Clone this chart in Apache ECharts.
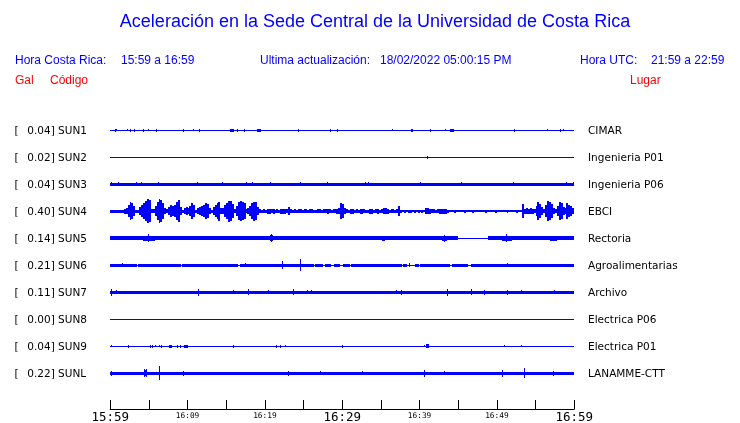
<!DOCTYPE html>
<html><head><meta charset="utf-8">
<script src="https://cdn.jsdelivr.net/npm/echarts/dist/echarts.min.js"></script>
<style>html,body{margin:0;padding:0;background:#fff}#c{width:740px;height:423px}</style>
</head><body><div id="c"></div><script>
// ---- data ----
const stations = ['SUN1','SUN2','SUN3','SUN4','SUN5','SUN6','SUN7','SUN8','SUN9','SUNL'];
const scaleLabels = ['0.04','0.02','0.04','0.40','0.14','0.21','0.11','0.00','0.04','0.22'];
const places = ['CIMAR','Ingenieria P01','Ingenieria P06','EBCI','Rectoria','Agroalimentarias','Archivo','Electrica P06','Electrica P01','LANAMME-CTT'];
const timeLabels = ['15:59','16:09','16:19','16:29','16:39','16:49','16:59'];

// bands: [startMin, endMin, halfAmplitude gal]; spikes: [min, halfAmplitude gal]
const bandsSUN1 = [[0,60,0.017],[15.5,16.0,0.057],[19.0,19.5,0.057],[38.9,39.2,0.05],[43.9,44.4,0.057]];
const spikesSUN1 = [[0.58,0.05],[0.75,0.04],[2.2,0.04],[2.56,0.05],[3.08,0.05],[4.25,0.05],[4.94,0.04],[5.97,0.05],[9.42,0.05],[10.7,0.04],[11.5,0.05],[16.4,0.05],[17.3,0.05],[24.3,0.05],[28.4,0.05],[29.3,0.05],[36.5,0.04],[41.4,0.05],[43.3,0.04],[52.2,0.05],[56.5,0.04],[58.2,0.05],[58.6,0.04]];
const bandsSUN2 = [[0,60,0.017]];
const spikesSUN2 = [[41.0,0.05]];
const bandsSUN3 = [[0,60,0.05]];
const spikesSUN3 = [[0.15,0.067],[1.0,0.067],[3.4,0.067],[4.0,0.067],[6.2,0.067],[11.2,0.067],[14.4,0.067],[17.6,0.067],[18.3,0.067],[20.6,0.067],[24.5,0.067],[28.0,0.067],[32.9,0.067],[33.4,0.067],[40.0,0.067],[45.4,0.067],[52.1,0.067],[59.0,0.067],[59.9,0.067]];
// SUN4 envelope, quarter-minute bins
const envSUN4 = [
0.05,0.05,0.05,0.05,0.05,0.05,0.05,0.08,0.10,0.20,0.30,0.27,0.17,0.05,0.05,
0.13,0.20,0.27,0.33,0.40,0.37,0.07,0.07,0.17,0.30,0.40,0.37,0.27,0.10,0.07,
0.13,0.20,0.17,0.20,0.30,0.37,0.13,0.05,0.10,0.13,0.10,0.17,0.27,0.20,0.05,
0.10,0.13,0.17,0.20,0.27,0.23,0.10,0.05,0.13,0.20,0.27,0.32,0.10,
0.10,0.20,0.27,0.35,0.33,0.23,0.07,0.17,0.30,0.33,0.30,0.27,0.07,
0.10,0.17,0.27,0.32,0.30,0.13,
0.07,0.05,0.07,0.05,0.08,0.08,0.07,0.08,0.05,0.07,0.05,0.08,0.09,0.08,0.07,0.13,0.07,0.05,0.07,0.05,
0.07,0.07,0.05,0.07,0.07,0.05,0.07,0.07,0.05,0.05,0.07,0.07,0.05,0.07,0.07,0.09,0.07,0.05,0.07,0.07,0.08,
0.10,0.27,0.23,0.10,
0.07,0.05,0.08,0.08,0.05,0.07,0.05,0.08,0.08,0.07,0.05,0.05,0.08,0.08,0.05,0.07,0.09,0.05,0.07,0.10,
0.10,0.08,0.05,0.07,0.07,0.05,0.07,0.17,
0.05,0.04,0.05,0.04,0.05,0.05,0.04,0.05,0.04,0.05,0.04,0.05,0.04,
0.10,0.10,0.08,0.07,0.07,0.05,0.07,0.08,0.08,0.08,0.08,0.05,
0.04,0.035,0.035,0.05,0.035,0.035,0.04,0.035,0.05,0.035,0.035,0.035,0.05,0.035,0.035,0.035,0.04,0.035,0.035,0.05,
0.035,0.035,0.035,0.035,0.05,0.035,0.035,0.04,0.035,0.035,0.05,0.035,0.035,0.035,0.035,0.05,0.035,0.04,
0.23,0.08,0.10,0.08,0.10,0.08,0.07,
0.17,0.30,0.23,0.13,
0.07,0.20,0.33,0.30,0.23,0.10,
0.07,0.17,0.30,0.27,0.13,
0.10,0.27,0.20,0.17,0.10];
const bandsSUN5 = [[0,44.95,0.067],[44.95,48.84,0.017],[48.84,60,0.067],[4.2,5.75,0.09],[20.6,21.0,0.1],[35.1,35.5,0.09],[42.9,43.5,0.09],[50.6,52.0,0.09],[56.9,57.8,0.09]];
const spikesSUN5 = [[4.9,0.133],[20.8,0.14],[43.2,0.12],[51.2,0.133]];
const bandsSUN6 = [[0,60,0.017],[0,3.45,0.05],[3.65,9.1,0.05],[9.3,16.55,0.05],[16.75,26.3,0.05],[26.5,27.5,0.05],[27.8,28.6,0.05],[28.9,29.7,0.05],[30.1,31.0,0.05],[31.2,37.7,0.05],[37.9,38.4,0.05],[39.4,39.9,0.05],[40.0,44.0,0.05],[44.2,46.3,0.05],[46.6,60,0.05]];
const spikesSUN6 = [[1.58,0.067],[17.4,0.067],[22.2,0.133],[24.5,0.2],[38.7,0.067],[51.3,0.067]];
const bandsSUN7 = [[0,60,0.057]];
const spikesSUN7 = [[0.06,0.11],[0.8,0.07],[11.3,0.11],[15.9,0.067],[17.8,0.10],[20.4,0.067],[23.6,0.10],[25.4,0.067],[26.0,0.067],[36.9,0.067],[37.6,0.083],[43.6,0.11],[46.7,0.10],[48.4,0.083],[51.3,0.083],[53.1,0.067],[57.4,0.067]];
const bandsSUN8 = [[0,60,0.017]];
const spikesSUN8 = [];
const bandsSUN9 = [[0,60,0.017],[7.6,8.0,0.05],[9.55,10.1,0.05],[40.9,41.2,0.067]];
const spikesSUN9 = [[0.15,0.04],[2.3,0.05],[5.1,0.05],[5.45,0.05],[5.75,0.04],[6.3,0.04],[6.6,0.05],[8.6,0.05],[9.0,0.05],[15.9,0.05],[21.4,0.05],[21.9,0.05],[22.6,0.04],[29.99,0.05],[40.6,0.04],[50.9,0.04],[53.1,0.04]];
const bandsSUNL = [[0,60,0.057],[4.35,4.65,0.1]];
const spikesSUNL = [[0.15,0.077],[4.38,0.133],[4.6,0.133],[6.32,0.233],[9.42,0.077],[23.0,0.083],[27.1,0.067],[32.5,0.067],[40.6,0.12],[43.2,0.067],[50.6,0.11],[53.5,0.167],[57.2,0.083]];

// ---- build ----
const TRACE_STEP = 0.9, TOP_CENTER = 9.3;
const centers = stations.map((_, i) => TOP_CENTER - TRACE_STEP * i);
const allBands = [bandsSUN1,bandsSUN2,bandsSUN3,[],bandsSUN5,bandsSUN6,bandsSUN7,bandsSUN8,bandsSUN9,bandsSUNL];
const allSpikes = [spikesSUN1,spikesSUN2,spikesSUN3,[],spikesSUN5,spikesSUN6,spikesSUN7,spikesSUN8,spikesSUN9,spikesSUNL];
const items = [];
allBands.forEach((b, i) => b.forEach(s => items.push([i, s[0], s[1], s[2]])));
const dt = 60 / envSUN4.length;
envSUN4.forEach((a, j) => items.push([3, j * dt, (j + 1) * dt, a]));
allSpikes.forEach((b, i) => b.forEach(s => items.push([i, s[0], s[0], s[1]])));

const BLUE = '#0000ff';
function renderItem(params, api) {
  const i = api.value(0), t0 = api.value(1), t1 = api.value(2), a = api.value(3);
  const c = centers[i];
  const pc = api.coord([t0, c]);
  const pa = api.coord([t0, c + a]);
  const p1 = api.coord([t1, c]);
  const hpx = pc[1] - pa[1];
  const T = Math.max(1, Math.round(2 * hpx));
  const cyR = Math.round(pc[1]);
  const y0 = cyR - Math.floor(T / 2);
  let x0 = Math.round(pc[0]), x1 = Math.round(p1[0]);
  if (x1 <= x0) x1 = x0 + 1;
  return { type: 'rect', shape: { x: x0, y: y0, width: x1 - x0, height: T }, style: { fill: BLUE } };
}

const chart = echarts.init(document.getElementById('c'), null, { renderer: 'canvas' });
chart.setOption({
  animation: false,
  backgroundColor: '#fff',
  grid: { left: 110.2, right: 165.8, top: 115, bottom: 14, containLabel: false, outerBoundsMode: 'none' },
  xAxis: {
    type: 'value', min: 0, max: 60, interval: 5,
    axisLine: { show: true, lineStyle: { color: '#000', width: 1 } },
    axisTick: { show: true, inside: true, length: 9, lineStyle: { color: '#000', width: 1 } },
    splitLine: { show: false },
    axisLabel: {
      margin: 2, showMinLabel: true, showMaxLabel: true, hideOverlap: false,
      formatter: function (v) {
        const k = Math.round(v);
        if (k % 10 !== 0) return '';
        const lab = timeLabels[k / 10];
        return (k % 30 === 0) ? '{b|' + lab + '}' : '{s|' + lab + '}';
      },
      rich: {
        b: { fontSize: 12.5, fontFamily: 'DejaVu Sans Mono', lineHeight: 13, color: '#000' },
        s: { fontSize: 7.8, fontFamily: 'DejaVu Sans Mono', lineHeight: 9, color: '#000' }
      }
    }
  },
  yAxis: { type: 'value', min: 0, max: 9.8, show: false },
  series: [{
    type: 'custom', coordinateSystem: 'cartesian2d', renderItem: renderItem,
    data: items, silent: true, clip: false
  }]
});

const gfx = [];
function txt(x, y, text, font, fill, align) {
  gfx.push({ type: 'text', x: x, y: y, silent: true,
    style: { text: text, font: font, fill: fill, align: align || 'left', verticalAlign: 'middle' } });
}
const HF = '12px "Liberation Sans", Arial, sans-serif';
txt(375, 22, 'Aceleración en la Sede Central de la Universidad de Costa Rica', '18px "Liberation Sans", Arial, sans-serif', BLUE, 'center');
txt(15, 61, 'Hora Costa Rica:', HF, BLUE);
txt(121, 61, '15:59 a 16:59', HF, BLUE);
txt(260, 61, 'Ultima actualización:', HF, BLUE);
txt(380, 61, '18/02/2022 05:00:15 PM', HF, BLUE);
txt(580, 61, 'Hora UTC:', HF, BLUE);
txt(651, 61, '21:59 a 22:59', HF, BLUE);
txt(15, 81, 'Gal', HF, '#ff0000');
txt(50, 81, 'Código', HF, '#ff0000');
txt(630, 81, 'Lugar', HF, '#ff0000');
const LF = '10.5px "DejaVu Sans", sans-serif';
stations.forEach((s, i) => {
  const y = chart.convertToPixel({ xAxisIndex: 0, yAxisIndex: 0 }, [0, centers[i]])[1] + 1;
  txt(14.5, y, '[', LF, '#000');
  txt(27.3, y, scaleLabels[i] + '] ' + s, LF, '#000');
  txt(588, y, places[i], LF, '#000');
});
chart.setOption({ graphic: { elements: gfx } });
</script></body></html>
